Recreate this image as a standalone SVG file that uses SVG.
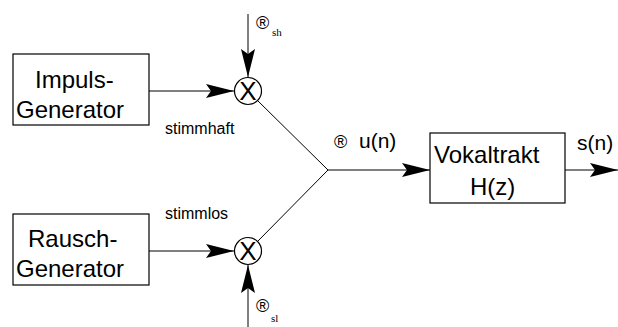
<svg xmlns="http://www.w3.org/2000/svg" width="618" height="327" viewBox="0 0 618 327">
<style>
.box{fill:#fff;stroke:#000;stroke-width:1.2}
.ln{fill:none;stroke:#000;stroke-width:1}
.big{font-family:"Liberation Sans",Arial,sans-serif;font-size:24px;fill:#000}
.x{font-family:"Liberation Sans",Arial,sans-serif;font-size:26px;fill:#000}
.mid{font-family:"Liberation Sans",Arial,sans-serif;font-size:21px;fill:#000}
.sm{font-family:"Liberation Sans",Arial,sans-serif;font-size:16px;fill:#000}
.sub{font-family:"Liberation Serif","Times New Roman",serif;font-size:11px;fill:#000}
.reg{font-family:"Liberation Sans",Arial,sans-serif;font-size:18px;fill:#000}
</style>
<defs>
<marker id="ah" viewBox="0 0 28 14" refX="28" refY="7" markerWidth="28" markerHeight="14" markerUnits="userSpaceOnUse" orient="auto">
<path d="M0,0 L28,7 L0,14 L5,7 Z" fill="#000"/>
</marker>
</defs>
<g id="connectors">
<line class="ln" x1="149" y1="91" x2="234" y2="91" marker-end="url(#ah)"/>
<line class="ln" x1="149" y1="251" x2="234" y2="251" marker-end="url(#ah)"/>
<line class="ln" x1="248" y1="14" x2="248" y2="77" marker-end="url(#ah)"/>
<line class="ln" x1="248" y1="327" x2="248" y2="265" marker-end="url(#ah)"/>
<polyline class="ln" points="257,100 328,170 257,242"/>
<line class="ln" x1="328" y1="170" x2="430" y2="170" marker-end="url(#ah)"/>
<line class="ln" x1="565" y1="170" x2="618" y2="170" marker-end="url(#ah)"/>
</g>
<g id="impuls">
<rect class="box" x="13" y="54" width="136" height="71"/>
<text class="big" x="35" y="88">Impuls-</text>
<text class="big" x="16" y="118">Generator</text>
</g>
<g id="rausch">
<rect class="box" x="13" y="214" width="136" height="71"/>
<text class="big" x="28" y="247">Rausch-</text>
<text class="big" x="16" y="277">Generator</text>
</g>
<g id="mult-top">
<circle class="box" cx="248" cy="91" r="13.5"/>
<text class="x" x="248" y="100" text-anchor="middle">X</text>
</g>
<g id="mult-bottom">
<circle class="box" cx="248" cy="251" r="13.5"/>
<text class="x" x="248" y="260" text-anchor="middle">X</text>
</g>
<g id="vokaltrakt">
<rect class="box" x="430" y="133" width="135" height="70"/>
<text class="big" x="434" y="163">Vokaltrakt</text>
<text class="big" x="470" y="195">H(z)</text>
</g>
<g id="labels">
<text class="sm" x="165" y="134">stimmhaft</text>
<text class="sm" x="165" y="219">stimmlos</text>
<text class="reg" x="256" y="29">®</text>
<text class="sub" x="272" y="36">sh</text>
<text class="reg" x="256" y="312">®</text>
<text class="sub" x="271" y="322">sl</text>
<text class="reg" x="334" y="148">®</text>
<text class="mid" x="359" y="148">u(n)</text>
<text class="mid" x="577" y="150">s(n)</text>
</g>
</svg>
